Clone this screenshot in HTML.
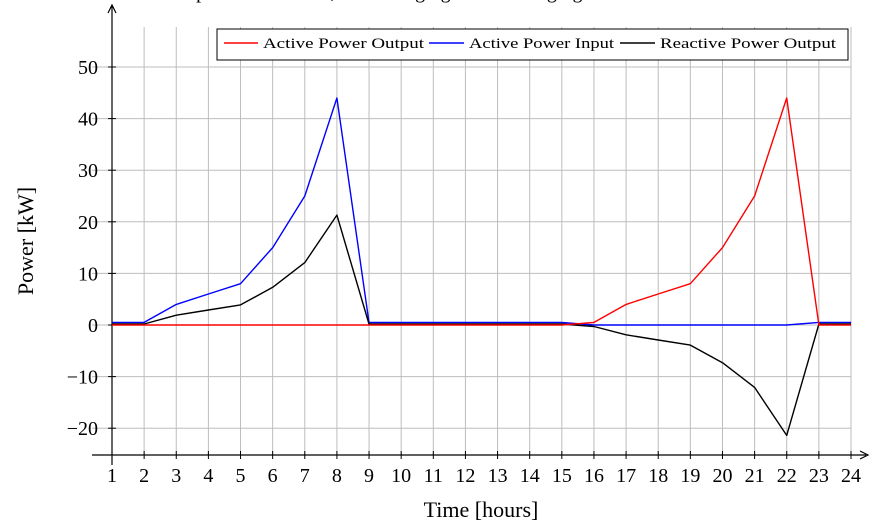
<!DOCTYPE html>
<html><head><meta charset="utf-8"><style>
body{margin:0;background:#fff;width:877px;height:527px;overflow:hidden}
svg text{font-family:"Liberation Serif",serif;fill:#000}
</style></head><body>
<svg id="chart" width="877" height="527" xmlns="http://www.w3.org/2000/svg">
<text x="140" y="-2" font-size="20">Power profile over time, with charging and discharging</text>
<g id="grid"></g>
<g id="axes"></g>
<g id="series"></g>
<g id="legend">
<rect x="217" y="29" width="631" height="31" fill="#fff" stroke="#000" stroke-width="1"/>
<line x1="224" y1="43" x2="258" y2="43" stroke="#f00" stroke-width="1.6"/>
<text x="263" y="48" font-size="15" textLength="161" lengthAdjust="spacingAndGlyphs">Active Power Output</text>
<line x1="429" y1="43" x2="464" y2="43" stroke="#00f" stroke-width="1.6"/>
<text x="469" y="48" font-size="15" textLength="145" lengthAdjust="spacingAndGlyphs">Active Power Input</text>
<line x1="620" y1="43" x2="655" y2="43" stroke="#000" stroke-width="1.6"/>
<text x="660" y="48" font-size="15" textLength="176" lengthAdjust="spacingAndGlyphs">Reactive Power Output</text>
</g>
<text x="481" y="517" font-size="22" text-anchor="middle">Time [hours]</text>
<text x="33" y="241" font-size="22" text-anchor="middle" transform="rotate(-90 33 241)">Power [kW]</text>
</svg>
<script>
const hours=[1,2,3,4,5,6,7,8,9,10,11,12,13,14,15,16,17,18,19,20,21,22,23,24];
const activeOutput=[0,0,0,0,0,0,0,0,0,0,0,0,0,0,0,0.5,4,6,8,15,25,44,0,0];
const activeInput=[0.5,0.5,4,6,8,15,25,44,0.5,0.5,0.5,0.5,0.5,0.5,0.5,0,0,0,0,0,0,0,0.5,0.5];
const reactiveOutput=[0.2,0.2,1.9,2.9,3.9,7.3,12.1,21.3,0.2,0.2,0.2,0.2,0.2,0.2,0.2,-0.3,-1.9,-2.9,-3.9,-7.3,-12.1,-21.4,0.2,0.2];
const yTicks=[-20,-10,0,10,20,30,40,50];
const NS="http://www.w3.org/2000/svg";
const X=h=>112+(h-1)*(739/23);
const Y=v=>325-v*5.16;
function mk(tag,attrs,parent){const e=document.createElementNS(NS,tag);for(const k in attrs)e.setAttribute(k,attrs[k]);document.getElementById(parent).appendChild(e);return e;}
const gTop=27,gBot=455;
hours.forEach(h=>{
  const l=mk('line',{x1:X(h),x2:X(h),y1:gTop,y2:gBot,stroke:'#bdbdbd','stroke-width':1},'grid');
  
  
  const t=mk('line',{x1:X(h),x2:X(h),y1:gBot-4,y2:gBot+4,stroke:'#000','stroke-width':1},'axes');
  
  
  const tx=mk('text',{x:X(h),y:482,'font-size':20,'text-anchor':'middle'},'axes');
  tx.textContent=h;
  
  
});
yTicks.forEach(v=>{
  const l=mk('line',{x1:92,x2:851,y1:Y(v),y2:Y(v),stroke:'#bdbdbd','stroke-width':1},'grid');
  
  
  const t=mk('line',{x1:108,x2:116,y1:Y(v),y2:Y(v),stroke:'#000','stroke-width':1},'axes');
  
  
  const tx=mk('text',{x:98,y:Y(v)+7,'font-size':20,'text-anchor':'end'},'axes');
  tx.textContent=v<0?'\u2212'+(-v):v;
  
  
});
const xa=mk('path',{d:'M92 455 H866 M860 451 L868 455 L860 459',stroke:'#000',fill:'none','stroke-width':1.2},'axes');


const ya=mk('path',{d:'M112 465 V6 M108 13 L112 5 L116 13',stroke:'#000',fill:'none','stroke-width':1.2},'axes');


function line(vals,color,name){
  const d=vals.map((v,i)=>(i?'L':'M')+X(hours[i]).toFixed(1)+' '+Y(v).toFixed(1)).join(' ');
  const p=mk('path',{d:d,stroke:color,fill:'none','stroke-width':1.4,'stroke-linejoin':'round'},'series');
  
  
}
line(activeInput,'#00f','active-power-input-line');
line(reactiveOutput,'#000','reactive-power-output-line');
line(activeOutput,'#f00','active-power-output-line');
</script>
</body></html>
